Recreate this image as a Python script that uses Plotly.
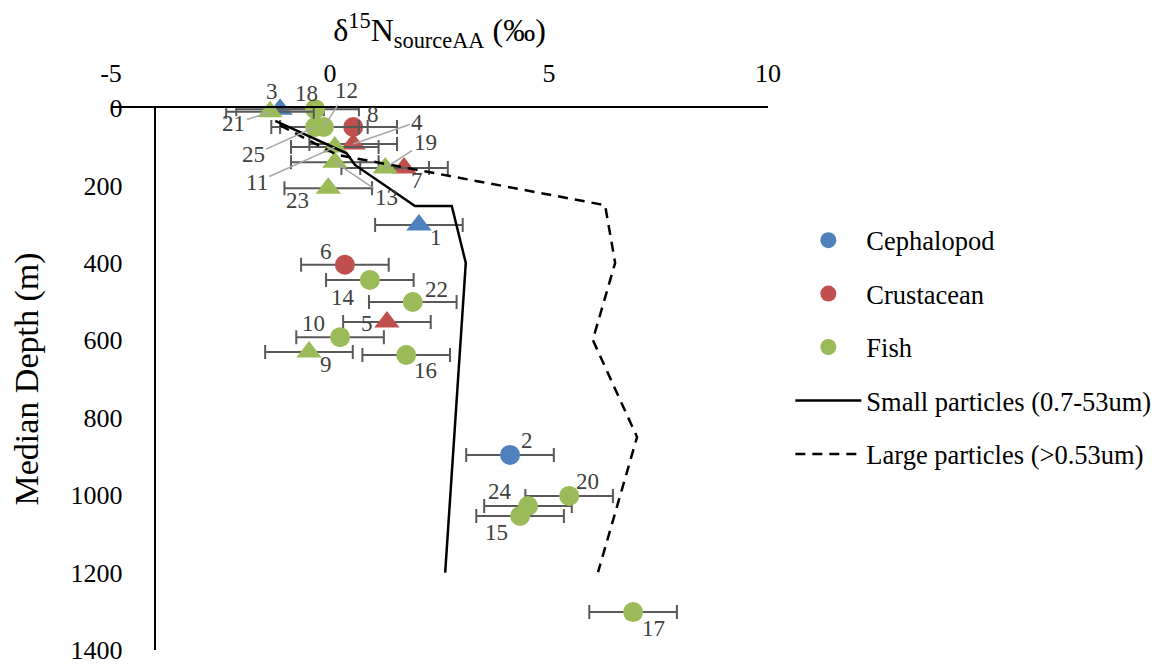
import plotly.graph_objects as go

# ---------------- data ----------------
label_ids = [1, 2, 3, 4, 5, 6, 7, 8, 9, 10, 11, 12, 13, 14, 15, 16, 17, 18, 19, 20, 21, 22, 23, 24, 25]
taxon = ["Cephalopod", "Cephalopod", "Cephalopod", "Crustacean", "Crustacean", "Crustacean", "Crustacean",
         "Crustacean", "Fish", "Fish", "Fish", "Fish", "Fish", "Fish", "Fish", "Fish", "Fish", "Fish",
         "Fish", "Fish", "Fish", "Fish", "Fish", "Fish", "Fish"]
marker_kind = ["tri", "circ", "tri", "tri", "tri", "circ", "tri", "circ", "tri", "circ", "tri", "circ", "tri",
               "circ", "circ", "circ", "circ", "circ", "tri", "circ", "tri", "circ", "tri", "circ", "circ"]
d15n_source = [2.03, 4.11, -1.14, 0.53, 1.30, 0.34, 1.69, 0.53, -0.48, 0.23, 0.11, -0.14, 0.11,
               0.91, 4.34, 1.74, 6.92, -0.34, 1.26, 5.46, -1.37, 1.89, -0.04, 4.52, -0.34]
median_depth = [302, 896, 3, 93, 553, 405, 155, 49, 630, 592, 101, 49, 140,
                444, 1054, 638, 1302, 3, 155, 1002, 10, 501, 207, 1028, 49]
d15n_err = [1.0, 1.0, 1.0, 1.0, 1.0, 1.0, 1.0, 1.0, 1.0, 1.0, 1.0, 1.0, 1.0,
            1.0, 1.0, 1.0, 1.0, 1.0, 1.0, 1.0, 1.0, 1.0, 1.0, 1.0, 1.0]

small_x = [-1.25, 0.38, 0.57, 1.94, 2.78, 3.10, 2.63]
small_depth = [33, 117, 147, 253, 253, 400, 1200]
large_x = [-1.14, 0.16, 6.28, 6.51, 6.00, 7.01, 6.12]
large_depth = [45, 121, 251, 400, 599, 850, 1199]

x_ticks = [-5, 0, 5, 10]
x_tick_text = ["-5", "0", "5", "10"]
y_ticks = [0, 200, 400, 600, 800, 1000, 1200, 1400]
y_tick_text = ["0", "200", "400", "600", "800", "1000", "1200", "1400"]

# ---------------- styling ----------------
FONT = "Liberation Serif"
colors = {"Cephalopod": "#4F81BD", "Crustacean": "#C0504D", "Fish": "#9BBB59"}
# label offsets in pixels (dx, dy), and whether a leader line is drawn
label_pos = {
    1: (17, 13, False), 2: (17, -14, False), 3: (-8, -18, False), 4: (64, -22, True),
    5: (-20, 1, False), 6: (-19, -13, False), 7: (13, 12, False), 8: (20, -12, False),
    9: (17, 13, False), 10: (-27, -14, False), 11: (-78, 35, True), 12: (23, -36, True),
    13: (52, 35, True), 14: (-27, 18, False), 15: (-24, 16, False), 16: (19, 15, False),
    17: (20, 16, False), 18: (-9, -16, False), 19: (40, -26, True), 20: (18, -14, False),
    21: (-36, 12, True), 22: (24, -12, False), 23: (-31, 12, False), 24: (-28, -14, False),
    25: (-62, 28, True),
}

fig = go.Figure()

rank = {"Cephalopod": 1, "Crustacean": 2, "Fish": 3}
for grp in ["Cephalopod", "Crustacean", "Fish"]:
    for kind in ["circ", "tri"]:
        idx = [i for i in range(len(label_ids)) if taxon[i] == grp and marker_kind[i] == kind]
        if not idx:
            continue
        fig.add_trace(go.Scatter(
            x=[d15n_source[i] for i in idx],
            y=[median_depth[i] for i in idx],
            mode="markers",
            name=grp,
            legendgroup=grp,
            legendrank=rank[grp],
            showlegend=(kind == "circ"),
            cliponaxis=False,
            marker=dict(color=colors[grp], size=20 if kind == "circ" else 22,
                        symbol="circle" if kind == "circ" else "triangle-up",
                        line=dict(width=0)),
            error_x=dict(type="data", array=[d15n_err[i] for i in idx], color="#595959",
                         thickness=2, width=7),
        ))

fig.add_trace(go.Scatter(x=small_x, y=small_depth, mode="lines", name="Small particles (0.7-53um)",
                         legendgroup="small", legendrank=4, cliponaxis=False,
                         line=dict(color="black", width=2.5)))
fig.add_trace(go.Scatter(x=large_x, y=large_depth, mode="lines", name="Large particles (>0.53um)",
                         legendgroup="large", legendrank=5, cliponaxis=False,
                         line=dict(color="black", width=2.5, dash="10px,7px")))

annotations = []
for i, lid in enumerate(label_ids):
    dx, dy, leader = label_pos[lid]
    common = dict(x=d15n_source[i], y=median_depth[i], xref="x", yref="y", text=str(lid),
                  font=dict(family=FONT, size=23, color="#404040"))
    if leader:
        annotations.append(dict(**common, showarrow=True, ax=dx, ay=dy, arrowhead=0,
                                arrowwidth=1.5, arrowcolor="#A6A6A6", standoff=0))
    else:
        annotations.append(dict(**common, showarrow=False, xshift=dx, yshift=-dy))

# the page keeps the browser's default 8px body margin, so the figure is sized
# to fit the 1161x670 window exactly and the margins are offset by 8px
fig.update_layout(
    width=1145, height=654,
    margin=dict(l=103, r=385, t=100, b=12, autoexpand=False),
    paper_bgcolor="white", plot_bgcolor="white",
    font=dict(family=FONT, size=26, color="black"),
    showlegend=True,
    legend=dict(x=1.034, xanchor="left", y=0.80, yanchor="top", traceorder="grouped",
                tracegroupgap=16, itemwidth=66, font=dict(family=FONT, size=26.5, color="black"),
                bgcolor="rgba(0,0,0,0)"),
    annotations=annotations,
    xaxis=dict(range=[-5, 10], side="top", tickvals=x_ticks, ticktext=x_tick_text,
               showgrid=False, zeroline=False, automargin=False, ticklabeloverflow="allow",
               showline=True, linecolor="black", linewidth=2, ticks="",
               ticklabelstandoff=14, tickfont=dict(family=FONT, size=26),
               title=dict(text="δ<sup>15</sup>N<sub>sourceAA</sub> (‰)",
                          font=dict(family=FONT, size=32), standoff=8)),
    yaxis=dict(range=[1400, 0], tickvals=y_ticks, ticktext=y_tick_text,
               showgrid=False, zeroline=False, automargin=False, ticklabeloverflow="allow",
               anchor="free", position=1 / 15,
               showline=True, linecolor="black", linewidth=2, ticks="",
               ticklabelstandoff=26, tickfont=dict(family=FONT, size=26),
               title=dict(text="Median Depth (m)", font=dict(family=FONT, size=34), standoff=22)),
)

fig.write_html("out.html", config={"displayModeBar": False})
